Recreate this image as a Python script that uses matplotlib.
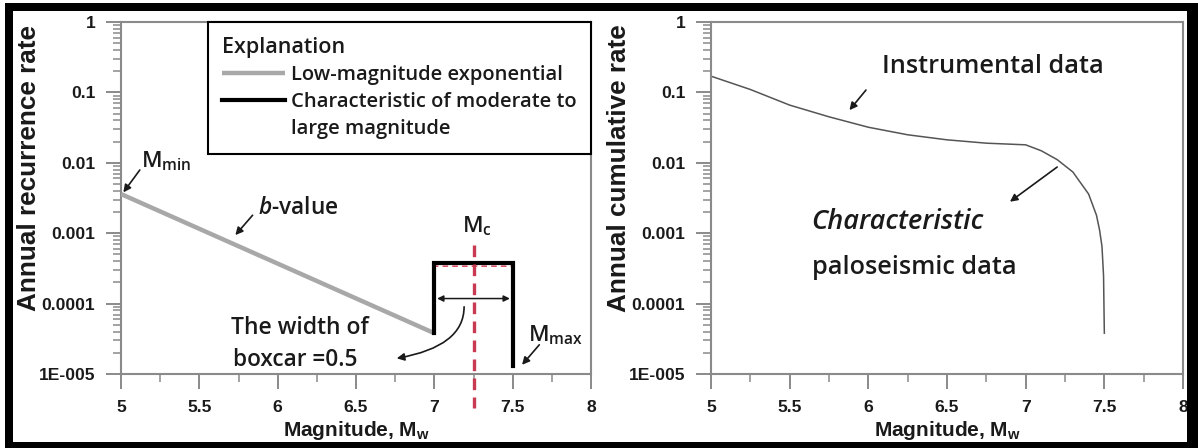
import matplotlib
matplotlib.use("Agg")
import matplotlib.pyplot as plt
from matplotlib.lines import Line2D
from matplotlib.patches import Rectangle
import numpy as np

ann_family = 'Open Sans'
plt.rcParams['mathtext.fontset'] = 'custom'
plt.rcParams['mathtext.rm'] = ann_family + ':semibold'
plt.rcParams['mathtext.it'] = ann_family + ':italic:semibold'
plt.rcParams['mathtext.bf'] = 'Liberation Sans:bold'

# ---- data ----
# left panel: boxcar recurrence model
exp_mag = [5.0, 7.0]
exp_rate = [0.0036, 3.8e-5]
box_mag = [7.0, 7.0, 7.5, 7.5]
box_rate = [3.8e-5, 3.8e-4, 3.8e-4, 1.3e-5]
model_mag = [5.0, 7.0, 7.0, 7.5]
model_rate = [0.0036, 3.8e-5, 3.4e-4, 3.4e-4]
mc_mag = 7.25
mc_top, mc_bottom = 6.8e-4, 3.3e-6

# right panel: cumulative rate
cum_mag = [5.0, 5.25, 5.5, 5.75, 6.0, 6.25, 6.5, 6.75, 7.0,
           7.1, 7.2, 7.3, 7.4, 7.45, 7.47, 7.485, 7.495, 7.5]
cum_rate = [0.170, 0.110, 0.066, 0.045, 0.032, 0.025, 0.0212, 0.019, 0.018,
            0.0148, 0.0111, 0.0074, 0.0036, 0.0018, 0.0011, 6.5e-4, 2.5e-4, 3.8e-5]

yticks = [1, 0.1, 0.01, 0.001, 0.0001, 1e-5]
ylabels = ['1', '0.1', '0.01', '0.001', '0.0001', '1E-005']
xticks = [5, 5.5, 6, 6.5, 7, 7.5, 8]
xlabels = ['5', '5.5', '6', '6.5', '7', '7.5', '8']

spine_c = '#8a8a8a'
txt_c = '#1a1a1a'
ann = dict(family=ann_family, weight='semibold', color=txt_c)

fig = plt.figure(figsize=(11.98, 4.48), dpi=100)
W, H = 1198, 448


def frame_axes(left_px, right_px):
    ax = fig.add_axes([left_px / W, 1 - 374 / H, (right_px - left_px) / W, (374 - 22) / H])
    ax.set_yscale('log')
    ax.set_ylim(1e-5, 1)
    ax.set_xlim(5, 8)
    ax.set_yticks(yticks, ylabels)
    minor = [m * 10.0 ** k for k in range(-5, 0) for m in range(2, 10)]
    ax.set_yticks(minor, minor=True)
    ax.set_yticklabels([], minor=True)
    ax.set_xticks(xticks, xlabels)
    ax.set_xticks(np.arange(5.25, 8, 0.5), minor=True)
    for s in ax.spines.values():
        s.set_color(spine_c)
        s.set_linewidth(1.5)
    ax.tick_params(which='major', direction='out', length=11, width=1.4, color=spine_c,
                   pad=7.5, labelsize=12.6, labelcolor=txt_c, labelfontfamily='Liberation Sans')
    ax.tick_params(which='minor', direction='out', length=5.5, width=1.1, color=spine_c)
    for lab in ax.get_xticklabels() + ax.get_yticklabels():
        lab.set_fontweight('bold')
    ax.set_xlabel(r'Magnitude, M$_{\mathbf{w}}$', family='Liberation Sans', weight='bold',
                  size=15, color=txt_c)
    ax.xaxis.set_label_coords(0.5, -0.16)
    ax.xaxis.label.set_va('center')
    return ax


# ---------------- left panel ----------------
ax1 = frame_axes(121, 591)
ax1.set_ylabel('Annual recurrence rate', family='Liberation Sans', weight='bold',
               size=18.8, color=txt_c)
ax1.yaxis.set_label_coords(-0.17, 0.585)

l_exp, = ax1.plot(exp_mag, exp_rate, color='#a8a8a8', lw=3.2, solid_capstyle='butt', zorder=3)
ax1.plot(model_mag, model_rate, color='#d23a50', lw=1.0, ls=(0, (4, 3)), zorder=2)
l_box, = ax1.plot(box_mag, box_rate, color='black', lw=3.0, solid_joinstyle='miter', zorder=4)
ax1.plot([mc_mag, mc_mag], [mc_top, mc_bottom], color='#c83a52', lw=2.4,
         ls=(0, (3.5, 2.2)), clip_on=False, zorder=5)

# legend "Explanation"
blank = Line2D([], [], color='none')
leg = ax1.legend([l_exp, l_box, blank],
                 ['Low-magnitude exponential', 'Characteristic of moderate to', 'large magnitude'],
                 title='Explanation', loc='upper right', bbox_to_anchor=(1, 1), borderaxespad=0,
                 fancybox=False, framealpha=1, edgecolor='black', handlelength=3.1,
                 handletextpad=0.3, labelspacing=0.36, borderpad=0.72, alignment='left',
                 prop={'family': ann_family, 'weight': 'semibold', 'size': 14.5},
                 title_fontproperties={'family': ann_family, 'weight': 'semibold', 'size': 15.5})
leg.get_frame().set_linewidth(1.5)
for t in leg.get_texts():
    t.set_color(txt_c)
leg.get_title().set_color(txt_c)

arrow = dict(arrowstyle='-|>', color=txt_c, lw=1.2, mutation_scale=11, shrinkA=0, shrinkB=0)

ax1.text(5.13, 0.0105, r'M$_{\mathrm{min}}$', size=16, ha='left', va='center', **ann)
ax1.annotate('', xy=(5.015, 0.0038), xytext=(5.12, 0.0079), arrowprops=arrow)

ax1.text(5.875, 0.00225, r'$\mathit{b}$-value', size=16.3, ha='left', va='center', **ann)
ax1.annotate('', xy=(5.73, 0.00094), xytext=(5.84, 0.0018), arrowprops=arrow)

ax1.text(7.27, 0.00125, r'M$_{\mathrm{c}}$', size=16, ha='center', va='center', **ann)

ax1.annotate('', xy=(7.0, 1.18e-4), xytext=(7.5, 1.18e-4),
             arrowprops=dict(arrowstyle='<|-|>', color=txt_c, lw=1.1, mutation_scale=9,
                             shrinkA=2, shrinkB=2))

ax1.text(5.70, 4.5e-5, 'The width of', size=16.5, ha='left', va='center', **ann)
ax1.text(5.715, 1.58e-5, 'boxcar =0.5', size=16.3, ha='left', va='center', **ann)
ax1.annotate('', xy=(6.76, 1.67e-5), xytext=(7.19, 9e-5),
             arrowprops=dict(arrowstyle='-|>', color=txt_c, lw=1.2, mutation_scale=11,
                             shrinkA=0, shrinkB=0,
                             connectionstyle='angle3,angleA=90,angleB=10'))

ax1.text(7.60, 3.6e-5, r'M$_{\mathrm{max}}$', size=16, ha='left', va='center', **ann)
ax1.annotate('', xy=(7.56, 1.35e-5), xytext=(7.67, 2.6e-5), arrowprops=arrow)

# ---------------- right panel ----------------
ax2 = frame_axes(711, 1183)
ax2.set_ylabel('Annual cumulative rate', family='Liberation Sans', weight='bold',
               size=18.8, color=txt_c)
ax2.yaxis.set_label_coords(-0.17, 0.585)

ax2.plot(cum_mag, cum_rate, color='#555555', lw=1.1)

ax2.text(6.09, 0.232, 'Instrumental data', size=18.2, ha='left', va='center', **ann)
ax2.annotate('', xy=(5.88, 0.056), xytext=(5.985, 0.108), arrowprops=arrow)
ax2.annotate('', xy=(6.90, 0.0028), xytext=(7.20, 0.0087), arrowprops=arrow)
ax2.text(5.64, 0.00145, 'Characteristic', style='italic', size=19.5, ha='left', va='center', **ann)
ax2.text(5.64, 3.3e-4, 'paloseismic data', size=18.2, ha='left', va='center', **ann)

# thick black frame around the whole figure
for (x0, y0, x1, y1) in [(5, 3, 1198, 11), (5, 442, 1198, 448), (5, 3, 13, 448), (1187, 3, 1198, 448)]:
    fig.add_artist(Rectangle((x0 / W, 1 - y1 / H), (x1 - x0) / W, (y1 - y0) / H,
                             transform=fig.transFigure, facecolor='black', edgecolor='none'))

fig.savefig('out.png', dpi=100)
